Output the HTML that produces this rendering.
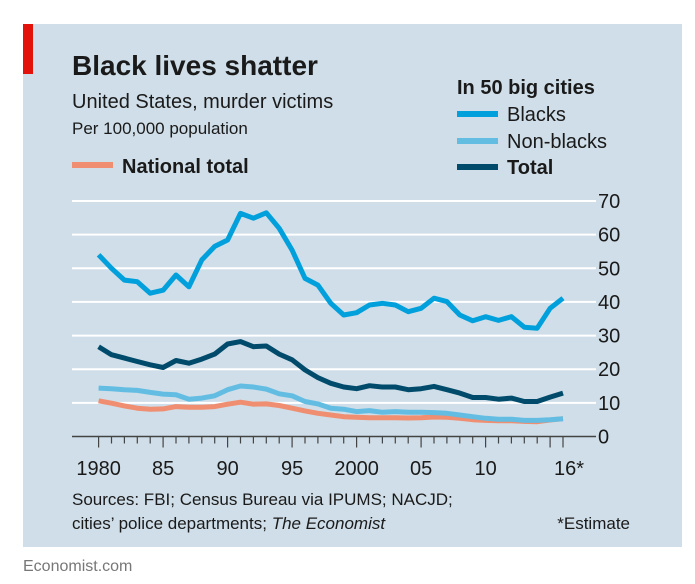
<!DOCTYPE html>
<html><head><meta charset="utf-8">
<style>
body{margin:0;width:695px;height:584px;background:#fff;overflow:hidden;font-family:"Liberation Sans",sans-serif;}
svg{display:block}
</style></head>
<body>
<svg width="695" height="584" xmlns="http://www.w3.org/2000/svg">
<rect x="23" y="24" width="659" height="523" fill="#cfdee8"/>
<rect x="23" y="24" width="10" height="50" fill="#e3120b"/>
<text x="72" y="75" font-size="28" font-weight="bold" fill="#1a1a1a">Black lives shatter</text>
<text x="72" y="108" font-size="20" fill="#1a1a1a">United States, murder victims</text>
<text x="72" y="134" font-size="17" fill="#1a1a1a">Per 100,000 population</text>
<g>
<line x1="72" y1="165" x2="113" y2="165" stroke="#ef8e70" stroke-width="6"/>
<text x="122" y="173" font-size="20" font-weight="bold" fill="#1a1a1a">National total</text></g>
<text x="457" y="94" font-size="20" font-weight="bold" fill="#1a1a1a">In 50 big cities</text>
<g>
<line x1="457" y1="114" x2="498" y2="114" stroke="#00a0dc" stroke-width="6"/>
<text x="507" y="121" font-size="20" fill="#1a1a1a">Blacks</text></g>
<g>
<line x1="457" y1="141" x2="498" y2="141" stroke="#63bde3" stroke-width="6"/>
<text x="507" y="148" font-size="20" fill="#1a1a1a">Non-blacks</text></g>
<g>
<line x1="457" y1="167" x2="498" y2="167" stroke="#004b6b" stroke-width="6"/>
<text x="507" y="174" font-size="20" font-weight="bold" fill="#1a1a1a">Total</text></g>
<g id="grid"></g><g id="series"></g><g id="axis"></g>
<text x="72" y="505" font-size="17" fill="#1a1a1a">Sources: FBI; Census Bureau via IPUMS; NACJD;</text>
<text x="72" y="529" font-size="17" fill="#1a1a1a">cities’ police departments; <tspan font-style="italic">The Economist</tspan></text>
<text x="630" y="529" font-size="17" fill="#1a1a1a" text-anchor="end">*Estimate</text>
<text x="23" y="571" font-size="16" fill="#777">Economist.com</text>
</svg>
<script>
const years=[1980,1981,1982,1983,1984,1985,1986,1987,1988,1989,1990,1991,1992,1993,1994,1995,1996,1997,1998,1999,2000,2001,2002,2003,2004,2005,2006,2007,2008,2009,2010,2011,2012,2013,2014,2015,2016];
const blacks=[54,50,46.5,46,42.6,43.5,48,44.5,52.5,56.5,58.4,66.3,64.9,66.5,61.9,55.4,47,45,39.6,36.1,36.8,39.1,39.6,39.1,37.1,38.1,41.1,40.1,36.1,34.4,35.6,34.5,35.6,32.5,32.2,38.1,41.1];
const total=[26.7,24.3,23.3,22.3,21.3,20.5,22.6,21.8,23,24.5,27.5,28.2,26.7,26.9,24.5,22.8,19.8,17.5,15.8,14.7,14.2,15.1,14.7,14.7,13.9,14.2,14.9,13.9,12.9,11.6,11.6,11.1,11.4,10.4,10.4,11.7,12.9];
const nonBlacks=[14.4,14.2,13.9,13.7,13.1,12.6,12.4,11.1,11.4,12.1,13.9,15,14.7,14.1,12.7,12.1,10.4,9.7,8.4,8.1,7.4,7.7,7.2,7.4,7.2,7.2,7.1,6.9,6.4,5.9,5.4,5.1,5.1,4.8,4.8,5,5.3];
const national=[10.6,9.9,9.1,8.4,8.1,8.2,8.9,8.7,8.7,8.9,9.6,10.2,9.6,9.7,9.2,8.4,7.6,6.9,6.4,5.9,5.7,5.6,5.6,5.6,5.5,5.6,5.8,5.7,5.4,5.0,4.8,4.7,4.7,4.5,4.4,4.9,5.3];
const yTicks=[0,10,20,30,40,50,60,70];
const xLabels=[[1980,"1980"],[1985,"85"],[1990,"90"],[1995,"95"],[2000,"2000"],[2005,"05"],[2010,"10"],[2016,"16*"]];
const NS="http://www.w3.org/2000/svg";
const X=y=>98.6+(y-1980)*(563-98.6)/36;
const Y=v=>436.5-v*(436.5-201)/70;
function mk(tag,attrs,parent){const e=document.createElementNS(NS,tag);for(const k in attrs)e.setAttribute(k,attrs[k]);parent.appendChild(e);return e;}
const grid=document.getElementById('grid'),ser=document.getElementById('series'),ax=document.getElementById('axis');
yTicks.forEach(t=>{
  if(t>0){const l=mk('line',{x1:72,x2:596,y1:Y(t),y2:Y(t),stroke:'#fff','stroke-width':2},grid);
  
  }
  const tx=mk('text',{x:598,y:Y(t)+7,'font-size':20,fill:'#1a1a1a'},grid);tx.textContent=t;
  
  
});
const al=mk('line',{x1:72,x2:596,y1:Y(0),y2:Y(0),stroke:'#444','stroke-width':1.5},ax);


years.forEach(y=>{const major=(y%5===0)||y===2016;
  const t=mk('line',{x1:X(y),x2:X(y),y1:Y(0),y2:Y(0)+(major?11:7),stroke:'#444','stroke-width':1.2},ax);
  
  });
xLabels.forEach(([y,s])=>{const t=mk('text',{x:X(y),y:475,'font-size':20,fill:'#1a1a1a','text-anchor':'middle'},ax);
  if(s==="16*")t.setAttribute('x',X(y)+6);
  t.textContent=s;
  
  });
function line(vals,col,name){const d=vals.map((v,i)=>(i?'L':'M')+X(years[i]).toFixed(1)+','+Y(v).toFixed(1)).join('');
  const p=mk('path',{d:d,fill:'none',stroke:col,'stroke-width':5,'stroke-linejoin':'round'},ser);
  
  }
line(national,'#ef8e70','line-national-total');
line(nonBlacks,'#63bde3','line-non-blacks');
line(total,'#004b6b','line-total');
line(blacks,'#00a0dc','line-blacks');
</script>
</body></html>
